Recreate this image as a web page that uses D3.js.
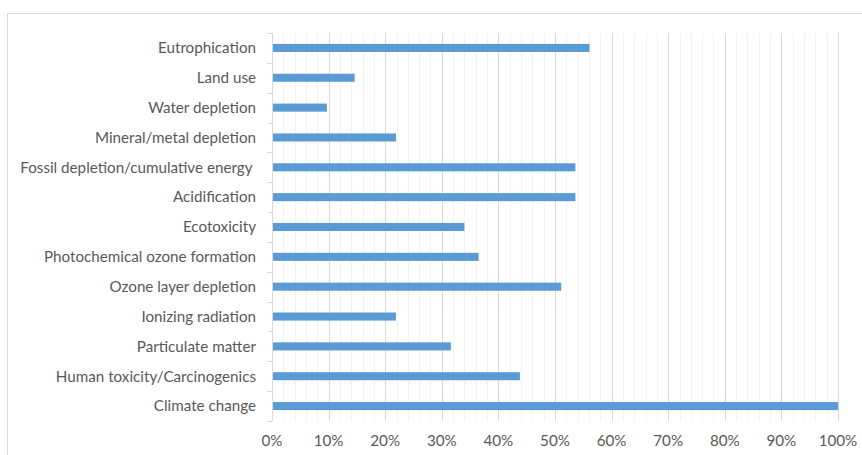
<!DOCTYPE html>
<html>
<head>
<meta charset="utf-8">
<script src="https://cdn.jsdelivr.net/npm/d3@7"></script>
<style>
  html, body { margin: 0; padding: 0; background: #fff; }
  svg { display: block; }
  text { font-family: Lato, "Open Sans", sans-serif; fill: #595959; white-space: pre; }
</style>
</head>
<body>
<svg id="chart" width="862" height="455"></svg>
<script>
// Impact categories, top to bottom
const categories = [
  "Eutrophication",
  "Land use",
  "Water depletion",
  "Mineral/metal depletion",
  "Fossil depletion/cumulative energy ",
  "Acidification",
  "Ecotoxicity",
  "Photochemical ozone formation",
  "Ozone layer depletion",
  "Ionizing radiation",
  "Particulate matter",
  "Human toxicity/Carcinogenics",
  "Climate change"
];
// Share of each category, in percent
const shares = [56.1, 14.6, 9.7, 21.9, 53.6, 53.6, 34.0, 36.5, 51.1, 21.9, 31.6, 43.8, 100];
// Axis ticks
const majorTicks = [0, 10, 20, 30, 40, 50, 60, 70, 80, 90, 100];
const tickLabels = ["0%", "10%", "20%", "30%", "40%", "50%", "60%", "70%", "80%", "90%", "100%"];

const data = categories.map((c, i) => ({ name: c, value: shares[i] }));

const svg = d3.select("#chart");
const plot = { left: 272, right: 838, top: 33, bottom: 421 };

// Chart area frame
svg.append("path")
  .attr("d", "M7.5,460V13.5H870")
  .attr("fill", "none")
  .attr("stroke", "#d9d9d9")
  .attr("stroke-width", 1);

const x = d3.scaleLinear().domain([0, 100]).range([plot.left, plot.right]);
const y = d3.scaleBand().domain(categories).range([plot.top, plot.bottom]).paddingInner(0.73).paddingOuter(0.365);
const yBand = d3.scaleBand().domain(categories).range([plot.top, plot.bottom]);

// Minor gridlines every 2%
const minor = d3.range(2, 101, 2).filter(v => v % 10 !== 0);
svg.append("g").selectAll("line").data(minor).join("line")
  .attr("x1", d => Math.round(x(d)) + 0.5).attr("x2", d => Math.round(x(d)) + 0.5)
  .attr("y1", plot.top).attr("y2", plot.bottom)
  .attr("stroke", "#f2f2f2").attr("stroke-width", 1);

// Major gridlines every 10%
svg.append("g").selectAll("line").data(majorTicks.filter(v => v > 0)).join("line")
  .attr("x1", d => Math.round(x(d)) + 0.5).attr("x2", d => Math.round(x(d)) + 0.5)
  .attr("y1", plot.top).attr("y2", plot.bottom)
  .attr("stroke", "#d9d9d9").attr("stroke-width", 1);

// Bars
svg.append("g").selectAll("rect").data(data).join("rect")
  .attr("x", x(0))
  .attr("y", d => y(d.name))
  .attr("width", d => x(d.value) - x(0))
  .attr("height", y.bandwidth())
  .attr("fill", "#5b9bd5");

// Category axis line and tick marks
svg.append("line")
  .attr("x1", plot.left + 0.5).attr("x2", plot.left + 0.5)
  .attr("y1", plot.top).attr("y2", plot.bottom)
  .attr("stroke", "#d9d9d9");
const bounds = categories.map(c => yBand(c)).concat([plot.bottom]);
svg.append("g").selectAll("line").data(bounds).join("line")
  .attr("x1", plot.left - 5).attr("x2", plot.left)
  .attr("y1", d => Math.round(d) + 0.5).attr("y2", d => Math.round(d) + 0.5)
  .attr("stroke", "#d9d9d9");

// Category labels
svg.append("g").selectAll("text").data(categories).join("text")
  .attr("x", 256)
  .attr("y", d => yBand(d) + yBand.bandwidth() / 2)
  .attr("dy", "0.35em")
  .attr("text-anchor", "end")
  .attr("font-size", 15.2)
  .text(d => d);

// Value axis labels
svg.append("g").selectAll("text").data(majorTicks).join("text")
  .attr("x", d => x(d))
  .attr("y", 446)
  .attr("text-anchor", "middle")
  .attr("font-size", 15.2)
  .text((d, i) => tickLabels[i]);
</script>
</body>
</html>
